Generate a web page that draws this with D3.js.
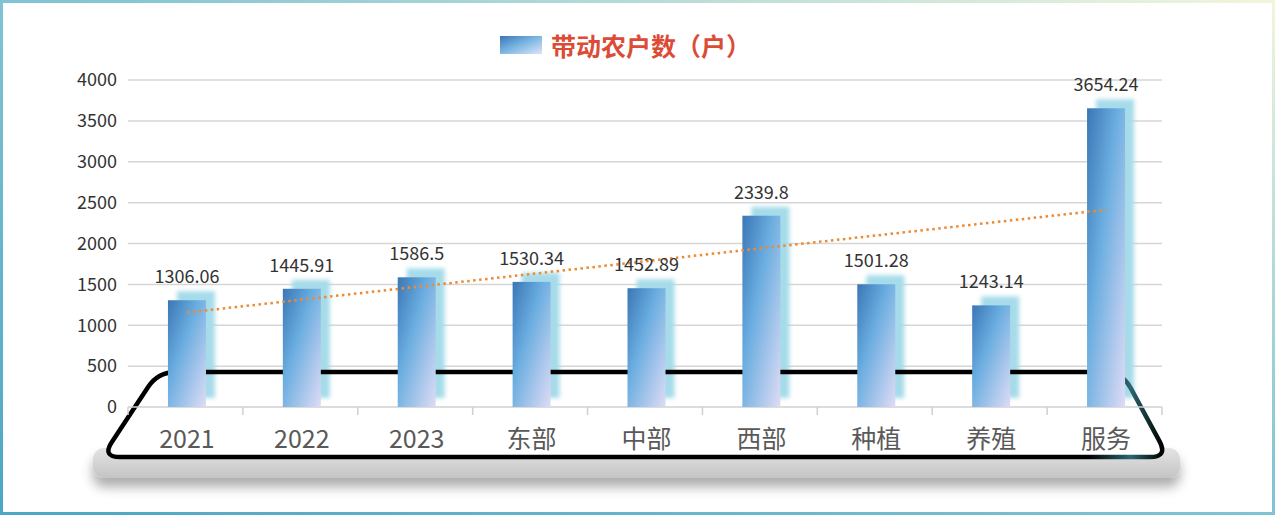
<!DOCTYPE html>
<html>
<head>
<meta charset="utf-8">
<script src="https://cdn.jsdelivr.net/npm/d3@7"></script>
<style>
  html, body { margin: 0; padding: 0; background: #ffffff; }
  svg { display: block; }
  text { font-family: "Noto Sans CJK SC", "Noto Sans", sans-serif; }
</style>
</head>
<body>
<svg id="chart" width="1275" height="515"></svg>
<script>
// Households driven, by year / region / industry
const categories = ["2021", "2022", "2023", "东部", "中部", "西部", "种植", "养殖", "服务"];
const households = [1306.06, 1445.91, 1586.5, 1530.34, 1452.89, 2339.8, 1501.28, 1243.14, 3654.24];
const yTicks = [0, 500, 1000, 1500, 2000, 2500, 3000, 3500, 4000];
// Linear trend line, value at first and last category
const trendValues = [1156, 2413];
const seriesName = "带动农户数（户）";

const W = 1275, H = 515;
const svg = d3.select("#chart");
const defs = svg.append("defs");

// frame gradient
const frameGrad = defs.append("linearGradient").attr("id", "frameGrad")
  .attr("x1", 0).attr("y1", 1).attr("x2", 1).attr("y2", 0);
frameGrad.append("stop").attr("offset", "0%").attr("stop-color", "#4ca6c6");
frameGrad.append("stop").attr("offset", "55%").attr("stop-color", "#86c6d4");
frameGrad.append("stop").attr("offset", "100%").attr("stop-color", "#f1f6dc");

// bar gradient (dark blue top-left to lavender bottom-right)
const barGrad = defs.append("linearGradient").attr("id", "barGrad")
  .attr("x1", 0).attr("y1", 0).attr("x2", 1).attr("y2", 1);
barGrad.append("stop").attr("offset", "0%").attr("stop-color", "#3a76b6");
barGrad.append("stop").attr("offset", "40%").attr("stop-color", "#6aade0");
barGrad.append("stop").attr("offset", "100%").attr("stop-color", "#dedcf5");

const legendGrad = defs.append("linearGradient").attr("id", "legendGrad")
  .attr("x1", 0).attr("y1", 0).attr("x2", 1).attr("y2", 1);
legendGrad.append("stop").attr("offset", "0%").attr("stop-color", "#3a76b6");
legendGrad.append("stop").attr("offset", "50%").attr("stop-color", "#7db8e4");
legendGrad.append("stop").attr("offset", "100%").attr("stop-color", "#dfe4f6");

// base plate gradient
const baseGrad = defs.append("linearGradient").attr("id", "baseGrad")
  .attr("x1", 0).attr("y1", 0).attr("x2", 0).attr("y2", 1);
baseGrad.append("stop").attr("offset", "0%").attr("stop-color", "#e4e4e4");
baseGrad.append("stop").attr("offset", "100%").attr("stop-color", "#c4c4c4");

// tray outline gradient (dark teal accent on right side)
const trayGrad = defs.append("linearGradient").attr("id", "trayGrad")
  .attr("x1", 0).attr("y1", 0).attr("x2", 1).attr("y2", 0);
trayGrad.append("stop").attr("offset", "0%").attr("stop-color", "#000");
trayGrad.append("stop").attr("offset", "93%").attr("stop-color", "#000");
trayGrad.append("stop").attr("offset", "97%").attr("stop-color", "#2c6670");
trayGrad.append("stop").attr("offset", "100%").attr("stop-color", "#000");

const glow = defs.append("filter").attr("id", "glow")
  .attr("x", "-40%").attr("y", "-10%").attr("width", "180%").attr("height", "120%");
glow.append("feGaussianBlur").attr("stdDeviation", 2.2);

const baseShadow = defs.append("filter").attr("id", "baseShadow")
  .attr("x", "-5%").attr("y", "-50%").attr("width", "110%").attr("height", "250%");
baseShadow.append("feDropShadow").attr("dx", 0).attr("dy", 9).attr("stdDeviation", 6)
  .attr("flood-color", "#000").attr("flood-opacity", 0.32);

// background + frame
svg.append("rect").attr("x", 1.5).attr("y", 1.5).attr("width", W - 3).attr("height", H - 3)
  .attr("fill", "#ffffff").attr("stroke", "url(#frameGrad)").attr("stroke-width", 3);

// scales
const left = 128, right = 1162, y0 = 407, yTop = 80;
const x = d3.scaleBand().domain(categories).range([left, right]).padding(0);
const y = d3.scaleLinear().domain([0, 4000]).range([y0, yTop]);
const barW = 38;
const cx = c => x(c) + x.bandwidth() / 2 + 1.5;

// base plate under the tray
svg.append("rect").attr("x", 93).attr("y", 448).attr("width", 1087).attr("height", 30)
  .attr("rx", 11).attr("fill", "url(#baseGrad)").attr("filter", "url(#baseShadow)");

// tray (trapezoid with rounded corners)
const trayPts = [[158, 372], [1122, 372], [1168, 457], [102, 457]];
function roundedPoly(pts, r) {
  const n = pts.length;
  let p = "";
  for (let i = 0; i < n; i++) {
    const prev = pts[(i - 1 + n) % n], cur = pts[i], next = pts[(i + 1) % n];
    const d1 = Math.hypot(prev[0] - cur[0], prev[1] - cur[1]);
    const d2 = Math.hypot(next[0] - cur[0], next[1] - cur[1]);
    const a = [cur[0] + (prev[0] - cur[0]) * r / d1, cur[1] + (prev[1] - cur[1]) * r / d1];
    const b = [cur[0] + (next[0] - cur[0]) * r / d2, cur[1] + (next[1] - cur[1]) * r / d2];
    p += (i === 0 ? "M" : "L") + a[0] + "," + a[1] + "Q" + cur[0] + "," + cur[1] + " " + b[0] + "," + b[1];
  }
  return p + "Z";
}
const trayPath = roundedPoly(trayPts, 18);
svg.append("path").attr("d", trayPath).attr("fill", "#ffffff");

// gridlines
svg.append("g").selectAll("line").data(yTicks.filter(t => t > 0)).join("line")
  .attr("x1", left).attr("x2", right)
  .attr("y1", d => y(d)).attr("y2", d => y(d))
  .attr("stroke", "#d6d6d6").attr("stroke-width", 1.5);

// y axis labels
const yAxis = d3.axisLeft(y).tickValues(yTicks).tickFormat(d3.format("d")).tickSize(0).tickPadding(0);
const gy = svg.append("g").attr("transform", "translate(117,0)").call(yAxis);
gy.select(".domain").remove();
gy.selectAll("text").attr("font-size", 18).attr("fill", "#333")
  .attr("font-family", "'Noto Sans CJK SC', sans-serif");

// bar glow shadows
svg.append("g").selectAll("rect").data(households).join("rect")
  .attr("x", (d, i) => cx(categories[i]) - barW / 2 + 9)
  .attr("y", d => y(d) - 9)
  .attr("width", barW)
  .attr("height", d => y0 - y(d))
  .attr("fill", "#a6dbe9")
  .attr("filter", "url(#glow)");

// tray outline
svg.append("path").attr("d", trayPath).attr("fill", "none")
  .attr("stroke", "url(#trayGrad)").attr("stroke-width", 4.5);

// x axis line and boundary ticks
svg.append("line").attr("x1", left).attr("x2", right).attr("y1", y0).attr("y2", y0)
  .attr("stroke", "#d0d0d0").attr("stroke-width", 1.5);
const bounds = categories.map(c => x(c)).concat([right]);
svg.append("g").selectAll("line").data(bounds).join("line")
  .attr("x1", d => d).attr("x2", d => d)
  .attr("y1", y0).attr("y2", y0 + 8)
  .attr("stroke", "#d0d0d0").attr("stroke-width", 1.5);

// x labels
const xAxis = d3.axisBottom(x).tickSize(0).tickPadding(0);
const gx = svg.append("g").attr("transform", "translate(1.5,430)").call(xAxis);
gx.select(".domain").remove();
gx.selectAll("text").attr("font-size", 25).attr("fill", "#595959")
  .attr("font-family", "'Noto Sans CJK SC', sans-serif");

// bars
svg.append("g").selectAll("rect").data(households).join("rect")
  .attr("x", (d, i) => cx(categories[i]) - barW / 2)
  .attr("y", d => y(d))
  .attr("width", barW)
  .attr("height", d => y0 - y(d))
  .attr("fill", "url(#barGrad)");

// trend line
const line = d3.line().x(d => d[0]).y(d => y(d[1]));
svg.append("path")
  .attr("d", line([[cx(categories[0]), trendValues[0]], [cx(categories[categories.length - 1]), trendValues[1]]]))
  .attr("fill", "none").attr("stroke", "#ee8a32").attr("stroke-width", 2.5)
  .attr("stroke-dasharray", "2.5,3.5");

// value labels
svg.append("g").selectAll("text").data(households).join("text")
  .attr("x", (d, i) => cx(categories[i]))
  .attr("y", d => y(d) - 17)
  .attr("text-anchor", "middle")
  .attr("font-size", 18).attr("fill", "#333")
  .text(d => d);

// legend
svg.append("rect").attr("x", 500).attr("y", 36).attr("width", 42).attr("height", 18)
  .attr("fill", "url(#legendGrad)");
svg.append("text").attr("x", 551).attr("y", 56)
  .attr("font-size", 25).attr("font-weight", "bold").attr("fill", "#dc4b36")
  .text(seriesName);
</script>
</body>
</html>
